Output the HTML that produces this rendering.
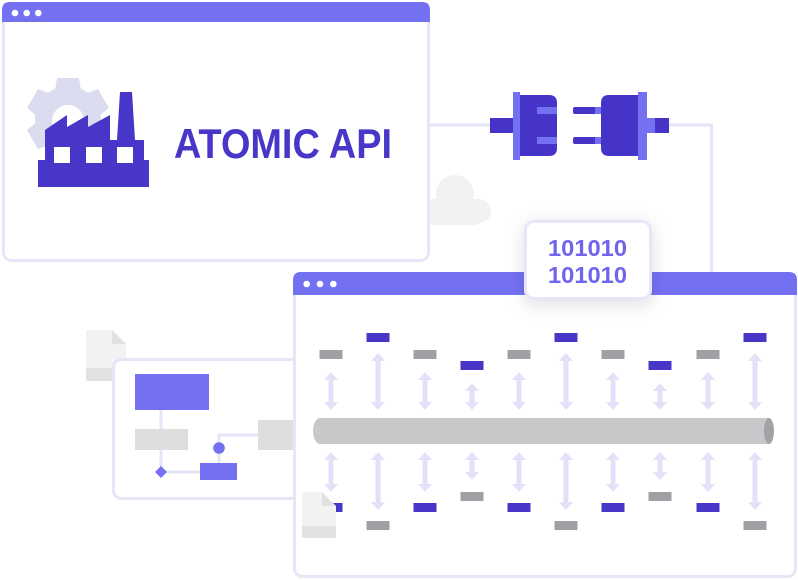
<!DOCTYPE html>
<html>
<head>
<meta charset="utf-8">
<style>
  html, body { margin: 0; padding: 0; background: #ffffff; }
  body { width: 798px; height: 580px; overflow: hidden; }
  svg { display: block; }
</style>
</head>
<body>
<svg width="798" height="580" viewBox="0 0 798 580" xmlns="http://www.w3.org/2000/svg">
  <defs>
    <filter id="sh" x="-40%" y="-40%" width="180%" height="180%">
      <feDropShadow dx="0" dy="4" stdDeviation="9" flood-color="#000" flood-opacity="0.13"/>
    </filter>
  </defs>

  <!-- cloud -->
  <g fill="#f2f2f2">
    <circle cx="455" cy="194" r="19"/>
    <circle cx="479" cy="211" r="12"/>
    <rect x="420" y="199" width="59" height="26" rx="4"/>
  </g>

  <!-- connector lines -->
  <path d="M428,125 H492" stroke="#e5e5f8" stroke-width="3" fill="none"/>
  <path d="M667,125 H711.5 V274" stroke="#e5e5f8" stroke-width="3" fill="none"/>

  <!-- top window -->
  <rect x="3.5" y="3.5" width="425" height="257" rx="8" fill="#ffffff" stroke="#e6e6f8" stroke-width="3"/>
  <path d="M2,22 V10 Q2,2 10,2 H422 Q430,2 430,10 V22 Z" fill="#7470f2"/>
  <circle cx="15" cy="13" r="3.3" fill="#fff"/>
  <circle cx="26.7" cy="13" r="3.3" fill="#fff"/>
  <circle cx="38.3" cy="13" r="3.3" fill="#fff"/>

  <!-- gear -->
  <g fill="#dcdcf0">
    <circle cx="68" cy="119" r="33"/>
    <g transform="translate(68,119)">
      <path d="M-11,-41 H11 L13,-28 H-13 Z"/>
      <path d="M-11,-41 H11 L13,-28 H-13 Z" transform="rotate(60)"/>
      <path d="M-11,-41 H11 L13,-28 H-13 Z" transform="rotate(120)"/>
      <path d="M-11,-41 H11 L13,-28 H-13 Z" transform="rotate(180)"/>
      <path d="M-11,-41 H11 L13,-28 H-13 Z" transform="rotate(240)"/>
      <path d="M-11,-41 H11 L13,-28 H-13 Z" transform="rotate(300)"/>
    </g>
  </g>
  <circle cx="68" cy="121" r="16" fill="#ffffff"/>

  <!-- factory -->
  <g fill="#4836c8">
    <path d="M45,162 L45,130 L67,115 L67,127 L88,115 L88,127 L110,115 L110,140 L117,140 L120,92 L132,92 L135,140 L144,140 L144,162 Z"/>
    <rect x="38" y="160" width="111" height="27"/>
  </g>
  <g fill="#ffffff">
    <rect x="54" y="147" width="16" height="16"/>
    <rect x="86" y="147" width="16" height="16"/>
    <rect x="117" y="147" width="16" height="16"/>
  </g>

  <text x="174" y="158" font-family="Liberation Sans, sans-serif" font-weight="bold" font-size="42" fill="#4836c8" textLength="218" lengthAdjust="spacingAndGlyphs">ATOMIC API</text>

  <!-- plugs -->
  <rect x="490" y="118" width="24" height="15" fill="#4634c8"/>
  <rect x="513" y="92" width="7" height="68" fill="#7470f2"/>
  <path d="M520,95 H549 Q557,95 557,103 V148 Q557,156 549,156 H520 Z" fill="#4634c8"/>
  <rect x="537" y="107" width="20" height="7" fill="#7470f2"/>
  <rect x="537" y="137" width="20" height="7" fill="#7470f2"/>

  <rect x="573" y="107" width="29" height="7" rx="2" fill="#4634c8"/>
  <rect x="573" y="137" width="29" height="7" rx="2" fill="#4634c8"/>
  <rect x="595" y="107" width="7" height="7" fill="#7470f2"/>
  <rect x="595" y="137" width="7" height="7" fill="#7470f2"/>
  <path d="M639,95 H609 Q601,95 601,103 V148 Q601,156 609,156 H639 Z" fill="#4634c8"/>
  <rect x="638" y="92" width="9" height="68" fill="#7470f2"/>
  <rect x="647" y="118" width="9" height="15" fill="#7470f2"/>
  <rect x="655" y="118" width="14" height="15" fill="#4634c8"/>

  <!-- doc 1 -->
  <path d="M88,330 H112 L126,344 V379 Q126,381 124,381 H88 Q86,381 86,379 V332 Q86,330 88,330 Z" fill="#f2f2f2"/>
  <path d="M86,368 H126 V379 Q126,381 124,381 H88 Q86,381 86,379 Z" fill="#e2e2e2"/>
  <path d="M112,330 L126,344 H112 Z" fill="#e2e2e2"/>

  <!-- flowchart window -->
  <rect x="113.5" y="359.5" width="250" height="139" rx="8" fill="#ffffff" stroke="#e6e6f8" stroke-width="3"/>
  <path d="M161,410 V472 H200" stroke="#e5e5f8" stroke-width="3" fill="none"/>
  <path d="M219,463 V435 H260" stroke="#e5e5f8" stroke-width="3" fill="none"/>
  <rect x="135" y="374" width="74" height="36" fill="#7470f2"/>
  <rect x="135" y="429" width="53" height="21" fill="#dedede"/>
  <path d="M161,466 L167,472 L161,478 L155,472 Z" fill="#7470f2"/>
  <rect x="200" y="463" width="37" height="17" fill="#7470f2"/>
  <circle cx="219" cy="448" r="5.8" fill="#7470f2"/>
  <rect x="258" y="420" width="40" height="30" fill="#dedede"/>

  <!-- bottom window -->
  <rect x="294.5" y="273.5" width="501" height="303" rx="8" fill="#ffffff" stroke="#e6e6f8" stroke-width="3"/>
  <path d="M293,295 V280 Q293,272 301,272 H789 Q797,272 797,280 V295 Z" fill="#7470f2"/>
  <circle cx="306.7" cy="284" r="3.3" fill="#fff"/>
  <circle cx="320" cy="284" r="3.3" fill="#fff"/>
  <circle cx="333.3" cy="284" r="3.3" fill="#fff"/>

  <!-- arrows -->
  <g fill="#e1e1f8">
    <path d="M331,372 L338,380 H333.5 V402 H338 L331,410 L324,402 H328.5 V380 H324 Z"/>
    <path d="M378,353 L385,361 H380.5 V402 H385 L378,410 L371,402 H375.5 V361 H371 Z"/>
    <path d="M425,372 L432,380 H427.5 V402 H432 L425,410 L418,402 H422.5 V380 H418 Z"/>
    <path d="M472,383 L479,391 H474.5 V402 H479 L472,410 L465,402 H469.5 V391 H465 Z"/>
    <path d="M519,372 L526,380 H521.5 V402 H526 L519,410 L512,402 H516.5 V380 H512 Z"/>
    <path d="M566,353 L573,361 H568.5 V402 H573 L566,410 L559,402 H563.5 V361 H559 Z"/>
    <path d="M613,372 L620,380 H615.5 V402 H620 L613,410 L606,402 H610.5 V380 H606 Z"/>
    <path d="M660,383 L667,391 H662.5 V402 H667 L660,410 L653,402 H657.5 V391 H653 Z"/>
    <path d="M708,372 L715,380 H710.5 V402 H715 L708,410 L701,402 H705.5 V380 H701 Z"/>
    <path d="M755,353 L762,361 H757.5 V402 H762 L755,410 L748,402 H752.5 V361 H748 Z"/>

    <path d="M331,452 L338,460 H333.5 V484 H338 L331,492 L324,484 H328.5 V460 H324 Z"/>
    <path d="M378,452 L385,460 H380.5 V502 H385 L378,510 L371,502 H375.5 V460 H371 Z"/>
    <path d="M425,452 L432,460 H427.5 V484 H432 L425,492 L418,484 H422.5 V460 H418 Z"/>
    <path d="M472,452 L479,460 H474.5 V472 H479 L472,480 L465,472 H469.5 V460 H465 Z"/>
    <path d="M519,452 L526,460 H521.5 V484 H526 L519,492 L512,484 H516.5 V460 H512 Z"/>
    <path d="M566,452 L573,460 H568.5 V502 H573 L566,510 L559,502 H563.5 V460 H559 Z"/>
    <path d="M613,452 L620,460 H615.5 V484 H620 L613,492 L606,484 H610.5 V460 H606 Z"/>
    <path d="M660,452 L667,460 H662.5 V472 H667 L660,480 L653,472 H657.5 V460 H653 Z"/>
    <path d="M708,452 L715,460 H710.5 V484 H715 L708,492 L701,484 H705.5 V460 H701 Z"/>
    <path d="M755,452 L762,460 H757.5 V502 H762 L755,510 L748,502 H752.5 V460 H748 Z"/>
  </g>

  <!-- top row rects -->
  <g fill="#a0a0a4">
    <rect x="319.5" y="350" width="23" height="9"/>
    <rect x="413.5" y="350" width="23" height="9"/>
    <rect x="507.5" y="350" width="23" height="9"/>
    <rect x="601.5" y="350" width="23" height="9"/>
    <rect x="696.5" y="350" width="23" height="9"/>
  </g>
  <g fill="#4836c8">
    <rect x="366.5" y="333" width="23" height="9"/>
    <rect x="554.5" y="333" width="23" height="9"/>
    <rect x="743.5" y="333" width="23" height="9"/>
    <rect x="460.5" y="361" width="23" height="9"/>
    <rect x="648.5" y="361" width="23" height="9"/>
  </g>

  <!-- bottom row rects -->
  <g fill="#4836c8">
    <rect x="319.5" y="503" width="23" height="9"/>
    <rect x="413.5" y="503" width="23" height="9"/>
    <rect x="507.5" y="503" width="23" height="9"/>
    <rect x="601.5" y="503" width="23" height="9"/>
    <rect x="696.5" y="503" width="23" height="9"/>
  </g>
  <g fill="#a0a0a4">
    <rect x="366.5" y="521" width="23" height="9"/>
    <rect x="554.5" y="521" width="23" height="9"/>
    <rect x="743.5" y="521" width="23" height="9"/>
    <rect x="460.5" y="492" width="23" height="9"/>
    <rect x="648.5" y="492" width="23" height="9"/>
  </g>

  <!-- pipe -->
  <ellipse cx="320" cy="431" rx="7" ry="13" fill="#c8c8ca"/>
  <rect x="320" y="418" width="449" height="26" fill="#c8c8ca"/>
  <ellipse cx="769" cy="431" rx="5" ry="13" fill="#a3a3a7"/>

  <!-- doc 2 -->
  <path d="M304,492 H322 L336,506 V536 Q336,538 334,538 H304 Q302,538 302,536 V494 Q302,492 304,492 Z" fill="#f2f2f2"/>
  <path d="M302,526 H336 V536 Q336,538 334,538 H304 Q302,538 302,536 Z" fill="#e2e2e2"/>
  <path d="M322,492 L336,506 H322 Z" fill="#e2e2e2"/>

  <!-- binary box -->
  <rect x="525.5" y="221.5" width="125" height="77" rx="8" fill="#ffffff" stroke="#e6e6f8" stroke-width="3" filter="url(#sh)"/>
  <text x="587.5" y="256" text-anchor="middle" font-family="Liberation Sans, sans-serif" font-weight="bold" font-size="23" fill="#7064ee" textLength="79" lengthAdjust="spacingAndGlyphs">101010</text>
  <text x="587.5" y="283" text-anchor="middle" font-family="Liberation Sans, sans-serif" font-weight="bold" font-size="23" fill="#7064ee" textLength="79" lengthAdjust="spacingAndGlyphs">101010</text>
</svg>
</body>
</html>
